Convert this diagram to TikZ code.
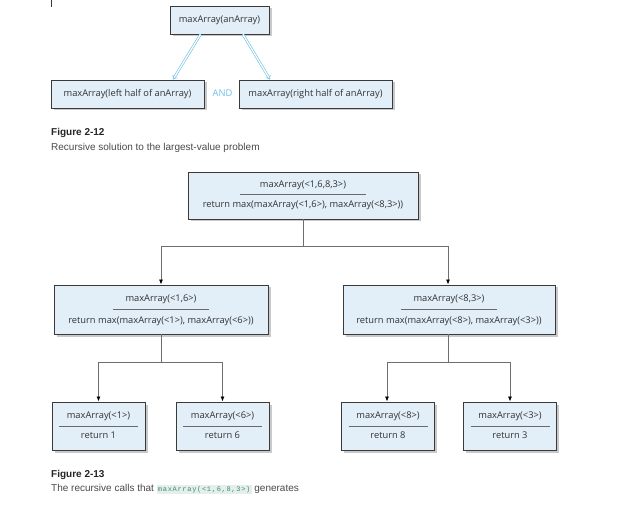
\documentclass[tikz,border=0pt]{standalone}
\usepackage{fontspec}
\setmainfont{Open Sans}
\newfontfamily\capfont{Liberation Sans}
\newfontfamily\codefont[LetterSpace=10]{Liberation Mono}
\usetikzlibrary{arrows.meta,shadows,calc}
\definecolor{boxfill}{HTML}{E2EEF8}
\definecolor{boxline}{HTML}{3A3A3A}
\definecolor{shadowgray}{HTML}{C9C9C9}
\definecolor{textgray}{HTML}{333333}
\definecolor{sepgray}{HTML}{6A6A6A}
\definecolor{conngray}{HTML}{6E6E6E}
\definecolor{arrblue}{HTML}{6CC0EA}
\definecolor{capgray}{HTML}{4A4A4A}
\definecolor{codebg}{HTML}{E4EEEA}
\definecolor{codegreen}{HTML}{3D8C7A}
\begin{document}
\begin{tikzpicture}[x=1pt,y=-1pt,
  box/.style={draw=boxline, line width=0.9pt, fill=boxfill, inner sep=0pt,
    font=\fontsize{9.3}{11}\selectfont, text=textgray,
    drop shadow={shadow xshift=2.5pt, shadow yshift=-2.5pt, fill=shadowgray, opacity=1}},
  txt/.style={font=\fontsize{9.3}{11}\selectfont, text=textgray, inner sep=0pt},
  sepline/.style={draw=sepgray, line width=0.7pt},
  conn/.style={draw=conngray, line width=0.8pt},
  arr/.style={conn, -{Latex[length=5pt,width=4pt,color=black]}},
  dblarr/.style={draw=arrblue, double=white, double distance=1.3pt, line width=0.6pt, -{Implies}},
  captitle/.style={font=\capfont\bfseries\fontsize{10}{12}\selectfont, text=black!85, inner sep=0pt, anchor=west},
  captext/.style={font=\capfont\fontsize{10}{12}\selectfont, text=capgray, inner sep=0pt, anchor=west}
]
\useasboundingbox[fill=white] (0,0) rectangle (635,505);

% small tick at the top
\draw[draw=boxline, line width=0.8pt] (51.5,0) -- (51.5,7);

% ---------------- Figure 2-12 ----------------
\node[box, minimum width=99pt, minimum height=28pt] (A) at (219.5,20) {maxArray(anArray)};
\node[box, minimum width=153pt, minimum height=28pt] (L) at (127.5,94) {maxArray(left half of anArray)};
\node[box, minimum width=153pt, minimum height=28pt] (R) at (315.5,94) {maxArray(right half of anArray)};
\node[txt, text=arrblue] (and) at (222.5,93.5) {AND};
\draw[dblarr] ([xshift=-19pt]A.south) -- ([xshift=45.5pt]L.north);
\draw[dblarr] ([xshift=23.5pt]A.south) -- ([xshift=-45.5pt]R.north);

\node[captitle] (f12) at (51,133) {Figure 2-12};
\node[captext] (c12) at (51,148) {Recursive solution to the largest-value problem};

% ---------------- Figure 2-13 ----------------
% level 0
\node[box, minimum width=230pt, minimum height=47pt] (B) at (303,195.5) {};
\node[txt] (B1) at ($(B)+(0,-10.5)$) {maxArray(<1,6,8,3>)};
\node[txt] (B2) at ($(B)+(0,9.5)$) {return max(maxArray(<1,6>), maxArray(<8,3>))};
\draw[sepline] ($(B)+(-63,-1.5)$) -- ($(B)+(63,-1.5)$);

% level 1
\node[box, minimum width=214pt, minimum height=49pt] (M1) at (161,309.5) {};
\node[txt] (M1a) at ($(M1)+(0,-10.5)$) {maxArray(<1,6>)};
\node[txt] (M1b) at ($(M1)+(0,11.5)$) {return max(maxArray(<1>), maxArray(<6>))};
\draw[sepline] ($(M1)+(-48,0)$) -- ($(M1)+(48,0)$);

\node[box, minimum width=212pt, minimum height=49pt] (M2) at (449,309.5) {};
\node[txt] (M2a) at ($(M2)+(0,-10.5)$) {maxArray(<8,3>)};
\node[txt] (M2b) at ($(M2)+(0,11.5)$) {return max(maxArray(<8>), maxArray(<3>))};
\draw[sepline] ($(M2)+(-48,0)$) -- ($(M2)+(48,0)$);

% level 2
\foreach \n/\x/\a/\b in {b1/98.5/<1>/1, b2/222.5/<6>/6, b3/388/<8>/8, b4/510/<3>/3}{
  \node[box, minimum width=93pt, minimum height=48pt] (\n) at (\x,426) {};
  \node[txt] (\n a) at ($(\n)+(0,-10)$) {maxArray(\a)};
  \node[txt] (\n b) at ($(\n)+(0,9.5)$) {return \b};
  \draw[sepline] ($(\n)+(-39.5,0)$) -- ($(\n)+(39.5,0)$);
}

% connectors
\draw[conn] (B.south) -- ++(0,27) coordinate (Bj);
\draw[arr] (Bj) -| (M1.north);
\draw[arr] (Bj) -| ([xshift=-1pt]M2.north);
\draw[conn] (M1.south) -- ++(0,28) coordinate (M1j);
\draw[arr] (M1j) -| (b1.north);
\draw[arr] (M1j) -| (b2.north);
\draw[conn] ([xshift=-1pt]M2.south) -- ++(0,28) coordinate (M2j);
\draw[arr] (M2j) -| ([xshift=-1pt]b3.north);
\draw[arr] (M2j) -| (b4.north);

\node[captitle] (f13) at (51,475) {Figure 2-13};
\node[captext] (c13) at (51,489) {The recursive calls that {\setlength{\fboxsep}{1.2pt}\colorbox{codebg}{\codefont\fontsize{7}{8}\selectfont\color{codegreen}maxArray(<1,6,8,3>)}} generates};
\end{tikzpicture}
\end{document}
